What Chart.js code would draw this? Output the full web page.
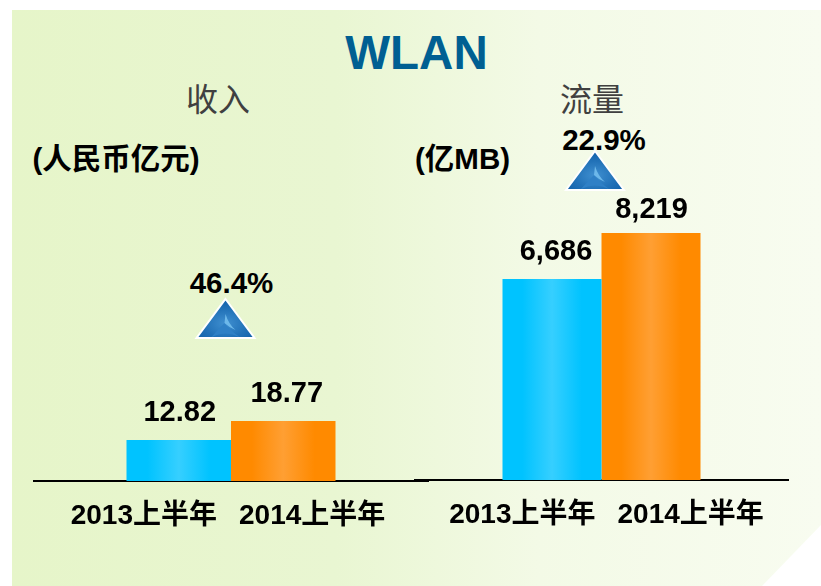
<!DOCTYPE html>
<html>
<head>
<meta charset="utf-8">
<script src="https://cdn.jsdelivr.net/npm/chart.js@4"></script>
<style>
html,body{margin:0;padding:0;background:#fff;width:821px;height:586px;overflow:hidden}
body{font-family:"Liberation Sans","Noto Sans CJK SC",sans-serif;position:relative}
#panel{position:absolute;left:12px;top:10px;width:809px;height:576px;
  background:linear-gradient(90deg,#e6f5c9 0%,#e9f6d2 40%,#f3fae6 65%,#f8fcf0 100%);
  clip-path:polygon(0 0,100% 0,100% 515px,750px 100%,0 100%)}
.txt{position:absolute;white-space:nowrap;transform:translateX(-50%);line-height:1}
.b{font-weight:bold;font-size:29.5px;color:#000}
.sub{font-size:32px;color:#404040}
canvas{position:absolute}
svg{position:absolute}
</style>
</head>
<body>
<div id="panel"></div>
<div class="txt" style="left:416.5px;top:29px;font-size:47.5px;font-weight:bold;color:#005f92">WLAN</div>
<div class="txt sub" style="left:218px;top:84px">收入</div>
<div class="txt sub" style="left:592px;top:84px">流量</div>
<div class="txt b" style="left:116px;top:144px">(人民币亿元)</div>
<div class="txt b" style="left:462.5px;top:144px">(亿MB)</div>
<div class="txt b" id="growthLeft" style="left:231.5px;top:268px"></div>
<div class="txt b" id="growthRight" style="left:604px;top:125px"></div>

<svg width="821" height="586" viewBox="0 0 821 586" style="left:0;top:0">
  <defs>
    <radialGradient id="tri" cx="0.5" cy="0.62" r="0.65">
      <stop offset="0" stop-color="#3f8fd0"/>
      <stop offset="0.55" stop-color="#2272b8"/>
      <stop offset="1" stop-color="#0f5fa8"/>
    </radialGradient>
    <g id="mark">
      <polygon points="0,-39 29,0 -29,0" fill="url(#tri)" stroke="#fff" stroke-width="2"/>
      <path d="M-14,-1 Q-6,-10 -1,-15 Q3,-9 14,-1 Q0,-8 -14,-1 Z" fill="#2f80c6"/>
      <path d="M0,-24 Q3,-14 10,-8 Q3,-11 -1,-15 Z" fill="#6db8ea"/>
    </g>
  </defs>
  <use href="#mark" x="225.5" y="338"/>
  <use href="#mark" x="595" y="190"/>
</svg>

<canvas id="chartLeft"></canvas>
<canvas id="chartRight"></canvas>

<script>
"use strict"
const periods = ["2013上半年", "2014上半年"];
const revenue = [12.82, 18.77];
const traffic = [6686, 8219];
const revenueLabels = ["12.82", "18.77"];
const trafficLabels = ["6,686", "8,219"];
const growth = ["46.4%", "22.9%"];

document.getElementById("growthLeft").textContent = growth[0];
document.getElementById("growthRight").textContent = growth[1];

const fontFamily = '"Liberation Sans","Noto Sans CJK SC",sans-serif';
const barColors = [
    ["#00c3ff", "#36cfff"],
    ["#ff8a00", "#ff9f33"]
];

// gradient on the bars + value above each bar
const barDecor = {
    id: "barDecor",
    afterLayout(chart, args, opts) {
        chart.legend.left -= opts.legendShift;
        chart.legend.right -= opts.legendShift;
    },
    beforeDatasetDraw(chart, args) {
        const el = chart.getDatasetMeta(args.index).data[0];
        const half = el.width / 2;
        const g = chart.ctx.createLinearGradient(el.x - half, 0, el.x + half, 0);
        const c = barColors[args.index];
        g.addColorStop(0, c[0]);
        g.addColorStop(0.2, c[0]);
        g.addColorStop(0.5, c[1]);
        g.addColorStop(0.8, c[0]);
        g.addColorStop(1, c[0]);
        el.options = Object.assign({}, el.options, {backgroundColor: g});
    },
    afterDatasetsDraw(chart, args, opts) {
        const ctx = chart.ctx;
        ctx.save();
        ctx.font = "bold 29px " + fontFamily;
        ctx.fillStyle = "#000";
        ctx.textAlign = "center";
        ctx.textBaseline = "alphabetic";
        chart.data.datasets.forEach(function(ds, i) {
            const el = chart.getDatasetMeta(i).data[0];
            ctx.fillText(opts.labels[i], el.x + opts.dx[i], el.y - 19 + opts.dy[i]);
        });
        ctx.restore();
    }
};

function disegna(id, box, values, labels, yMax, catPct, dx, dy, legendShift) {
    const canvas = document.getElementById(id);
    canvas.style.left = box.left + "px";
    canvas.style.top = box.top + "px";
    canvas.style.width = box.width + "px";
    canvas.style.height = box.height + "px";
    canvas.width = box.width;
    canvas.height = box.height;
    return new Chart(canvas, {
        type: "bar",
        plugins: [barDecor],
        data: {
            labels: [""],
            datasets: periods.map(function(p, i) {
                return {label: p, data: [values[i]], backgroundColor: barColors[i][0], borderWidth: 0};
            })
        },
        options: {
            responsive: false,
            animation: false,
            layout: {padding: {left: box.padLeft, right: box.padRight, top: 0, bottom: 12}},
            datasets: {bar: {categoryPercentage: catPct, barPercentage: 1}},
            scales: {
                x: {
                    grid: {display: false},
                    border: {display: true, color: "#000", width: 2},
                    ticks: {display: false},
                    afterFit: function(scale) { scale.height += 5; }
                },
                y: {display: false, min: 0, max: yMax}
            },
            plugins: {
                title: {display: false},
                tooltip: {enabled: false},
                barDecor: {labels: labels, dx: dx, dy: dy, legendShift: legendShift},
                legend: {
                    position: "bottom",
                    onClick: null,
                    labels: {
                        boxWidth: 0,
                        boxHeight: 0,
                        padding: 8,
                        color: "#000",
                        font: {family: fontFamily, size: 28, weight: "bold"}
                    }
                }
            }
        }
    });
}

disegna("chartLeft", {left: 12, top: 141, width: 430, height: 411, padLeft: 22, padRight: 14}, revenue, revenueLabels, 106.3, 209 / 394, [1, 3.5], [0, 0], 10);
disegna("chartRight", {left: 405, top: 140, width: 400, height: 411, padLeft: 10, padRight: 17}, traffic, trafficLabels, 11314, 198 / 373, [4, 0.5], [0, 4], 2);
</script>
</body>
</html>
